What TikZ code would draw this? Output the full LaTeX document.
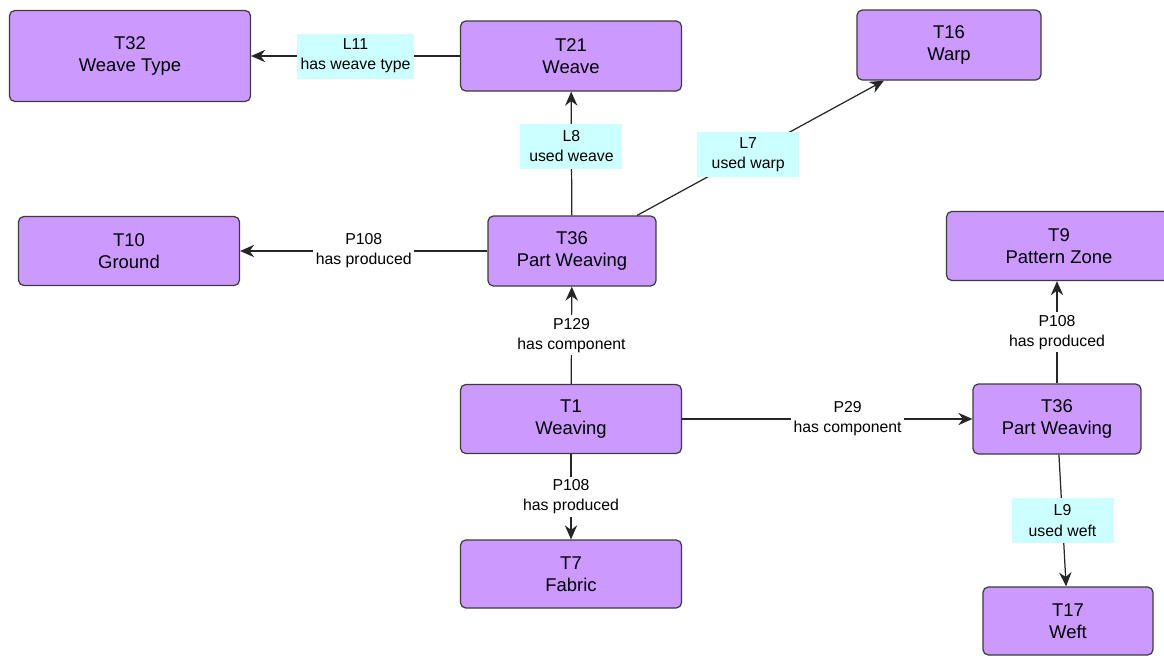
\documentclass[tikz,border=0pt]{standalone}
\usepackage{fontspec}
\setmainfont{Liberation Sans}
\usetikzlibrary{positioning, arrows.meta}
\definecolor{clsfill}{RGB}{204,153,255}
\definecolor{clsdraw}{RGB}{60,60,60}
\definecolor{lnkfill}{RGB}{204,255,255}

\begin{document}
\begin{tikzpicture}[x=0.02cm,y=-0.02cm,
    cls/.style={draw=clsdraw, fill=clsfill, rounded corners=3pt, line width=0.7pt,
      align=center, inner sep=0pt, minimum width=4.42cm, minimum height=1.4cm,
      font=\fontsize{10.5}{12.5}\selectfont},
    lnk/.style={fill=lnkfill, align=center, inner sep=1pt, minimum width=2.04cm,
      minimum height=0.9cm, font=\fontsize{9}{11.5}\selectfont},
    prop/.style={fill=white, align=center, inner sep=1.5pt,
      font=\fontsize{9}{11.5}\selectfont},
    rel/.style={-{Stealth[length=8pt,width=7pt]}, line width=0.7pt, draw=black!85}]
      \useasboundingbox (0,0) rectangle (1164,657);

      \node[cls, minimum width=4.82cm, minimum height=1.82cm] (T32) at (130,56) {T32\\Weave Type};
      \node[cls] (T21) at (571,56) {T21\\Weave};
      \node[cls, minimum width=3.68cm] (T16) at (949,45) {T16\\Warp};

      \node[cls, minimum height=1.38cm] (T10) at (129,251) {T10\\Ground};
      \node[cls, minimum width=3.36cm] (T36a) at (572,251) {T36\\Part Weaving};
      \node[cls, minimum width=4.5cm, minimum height=1.38cm] (T9) at (1059,246) {T9\\Pattern Zone};

      \node[cls, minimum height=1.38cm] (T1) at (571,419) {T1\\Weaving};
      \node[cls, minimum width=3.36cm] (T36b) at (1057,419) {T36\\Part Weaving};

      \node[cls, minimum height=1.36cm] (T7) at (571,574) {T7\\Fabric};
      \node[cls, minimum width=3.4cm, minimum height=1.36cm] (T17) at (1068,621) {T17\\Weft};

      \draw[rel] (T21) -- node[lnk, minimum width=2.34cm] {L11\\has weave type} (T32);
      \draw[rel] (T36a) -- node[lnk, pos=0.56] {L8\\used weave} (T21);
      \draw[rel] (T36a) -- node[lnk, pos=0.45] {L7\\used warp} (T16);
      \draw[rel] (T36a) -- node[prop] {P108\\has produced} (T10);
      \draw[rel] (T1) -- node[prop] {P129\\has component} (T36a);
      \draw[rel] (T1) -- node[prop, pos=0.57] {P29\\has component} (T36b);
      \draw[rel] (T36b.north) -- node[prop] {P108\\has produced} (T36b.north |- T9.south);
      \draw[rel] (T1) -- node[prop] {P108\\has produced} (T7);
      \draw[rel] (T36b) -- node[lnk, pos=0.5] {L9\\used weft} (T17);
    \end{tikzpicture}
\end{document}
